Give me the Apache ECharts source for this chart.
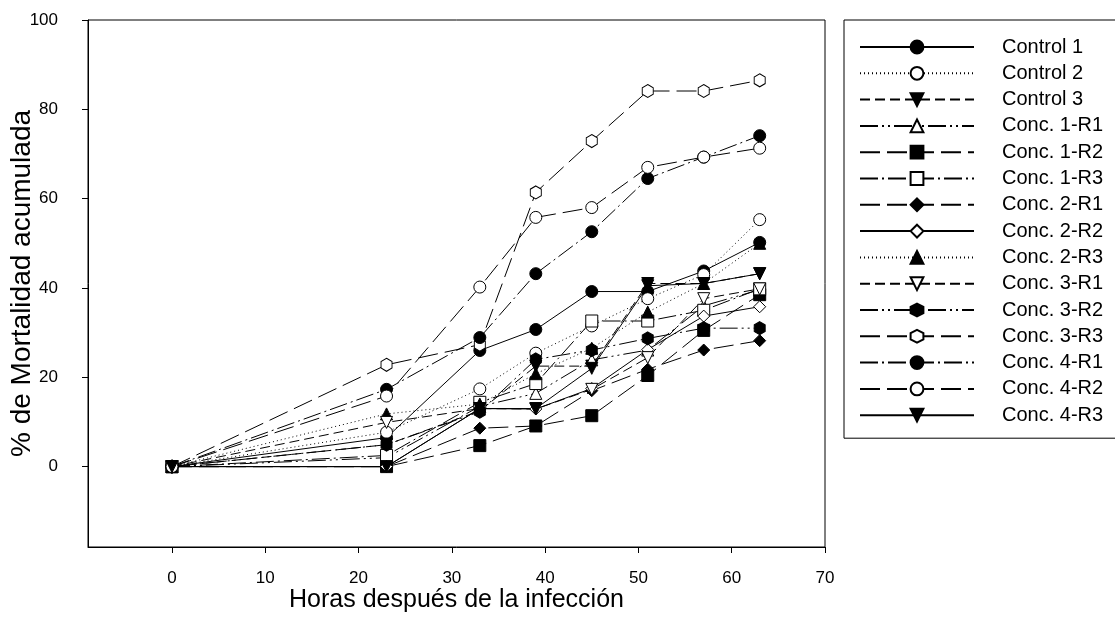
<!DOCTYPE html>
<html>
<head>
<meta charset="utf-8">
<script src="https://cdn.jsdelivr.net/npm/echarts@6/dist/echarts.min.js"></script>
<style>
  html, body { margin: 0; padding: 0; background: #fff; }
  #chart { width: 1115px; height: 635px; }
</style>
</head>
<body>
<div id="chart"></div>
<script>
// horas después de la infección
const horas = [0, 23, 33, 39, 45, 51, 57, 63];

// % de mortalidad acumulada
const control1 = [0, 6.5, 26.0, 30.7, 39.2, 39.2, 43.8, 50.2];
const control2 = [0, 7.7, 17.4, 25.4, 31.5, 37.6, 43.0, 55.3];
const control3 = [0, 4.9, 12.5, 22.5, 22.5, 41.0, 41.0, 43.2];
const conc1R1 = [0, 2.0, 13.5, 16.4, 23.9, 26.1, 36.0, 39.6];
const conc1R2 = [0, 0, 4.7, 9.1, 11.4, 20.4, 30.5, 38.5];
const conc1R3 = [0, 2.5, 14.4, 18.6, 32.6, 32.6, 35.0, 39.8];
const conc2R1 = [0, 0, 8.6, 9.1, 17.0, 21.8, 26.1, 28.2];
const conc2R2 = [0, 0, 13.0, 12.9, 17.5, 26.2, 33.7, 35.8];
const conc2R3 = [0, 11.8, 14.0, 20.8, 26.5, 34.6, 41.0, 50.0];
const conc3R1 = [0, 9.9, 13.0, 12.9, 17.3, 24.4, 37.6, 39.8];
const conc3R2 = [0, 4.9, 12.3, 24.0, 26.1, 28.7, 31.0, 31.0];
const conc3R3 = [0, 22.8, 27.3, 61.4, 72.9, 84.1, 84.1, 86.5];
const conc4R1 = [0, 17.3, 28.9, 43.2, 52.6, 64.5, 69.3, 74.1];
const conc4R2 = [0, 15.8, 40.2, 55.8, 58.0, 67.0, 69.3, 71.3];
const conc4R3 = [0, 0, 13.0, 13.0, 22.0, 40.5, 41.0, 43.2];

const xTicks = [0, 10, 20, 30, 40, 50, 60, 70];
const yTicks = [0, 20, 40, 60, 80, 100];

const font = '"Liberation Sans", Arial, sans-serif';
const hexagon = 'path://M0,-1L0.866,-0.5L0.866,0.5L0,1L-0.866,0.5L-0.866,-0.5Z';

// trazos
const solid = 'solid';
const dotted = [1, 3];
const dash = [10, 5];
const longDash = [20, 7];
const dashDot = [18, 4, 2, 4];
const dashDotDot = [18, 4, 2, 4, 2, 4];

function serie(name, values, symbol, filled, lineType, rotate) {
  const isHex = symbol === hexagon;
  return {
    name: name,
    type: 'line',
    data: horas.map((h, i) => [h, values[i]]),
    symbol: symbol,
    symbolSize: isHex ? [11, 13] : 12,
    symbolRotate: rotate || 0,
    showAllSymbol: true,
    lineStyle: { color: '#000', width: 1, type: lineType },
    itemStyle: {
      color: filled ? '#000' : '#fff',
      borderColor: '#000',
      borderWidth: 1
    },
    emphasis: { disabled: true },
    z: 2
  };
}

const chart = echarts.init(document.getElementById('chart'), null, { renderer: 'canvas' });

const option = {
  animation: false,
  backgroundColor: '#fff',
  textStyle: { fontFamily: font, color: '#000' },
  grid: {
    left: 88, top: 20, right: 290, bottom: 88,
    outerBoundsMode: 'none',
    containLabel: false,
    show: true, borderColor: '#000', borderWidth: 1
  },
  legend: {
    orient: 'vertical',
    left: 844,
    top: 20,
    padding: [17, 60, 13, 15],
    borderColor: '#000',
    borderWidth: 1,
    itemWidth: 114,
    itemHeight: 16,
    itemGap: 6.3,
    textStyle: { fontFamily: font, fontSize: 20, color: '#000', padding: [0, 0, 0, 23] },
    selectedMode: false
  },
  xAxis: {
    type: 'value',
    min: -9,
    max: 70,
    name: 'Horas después de la infección',
    nameLocation: 'middle',
    nameGap: 41,
    nameMoveOverlap: false,
    nameTextStyle: { fontFamily: font, fontSize: 25, color: '#000' },
    axisLine: { show: true, onZero: false, lineStyle: { color: '#000', width: 1 } },
    axisTick: { show: true, length: 6, customValues: xTicks, lineStyle: { color: '#000' } },
    axisLabel: { customValues: xTicks, margin: 23, fontSize: 17, color: '#000', fontFamily: font },
    splitLine: { show: false }
  },
  yAxis: {
    type: 'value',
    min: -18,
    max: 100,
    name: '% de Mortalidad acumulada',
    nameLocation: 'middle',
    nameGap: 52,
    nameMoveOverlap: false,
    nameTextStyle: { fontFamily: font, fontSize: 28, color: '#000' },
    axisLine: { show: true, onZero: false, lineStyle: { color: '#000', width: 1 } },
    axisTick: { show: true, length: 6, customValues: yTicks, lineStyle: { color: '#000' } },
    axisLabel: { customValues: yTicks, margin: 30, fontSize: 17, color: '#000', fontFamily: font },
    splitLine: { show: false }
  },
  series: [
    serie('Control 1', control1, 'circle', true, solid),
    serie('Control 2', control2, 'circle', false, dotted),
    serie('Control 3', control3, 'triangle', true, dash, 180),
    serie('Conc. 1-R1', conc1R1, 'triangle', false, dashDotDot),
    serie('Conc. 1-R2', conc1R2, 'rect', true, longDash),
    serie('Conc. 1-R3', conc1R3, 'rect', false, dashDot),
    serie('Conc. 2-R1', conc2R1, 'diamond', true, longDash),
    serie('Conc. 2-R2', conc2R2, 'diamond', false, solid),
    serie('Conc. 2-R3', conc2R3, 'triangle', true, dotted),
    serie('Conc. 3-R1', conc3R1, 'triangle', false, dash, 180),
    serie('Conc. 3-R2', conc3R2, hexagon, true, dashDotDot),
    serie('Conc. 3-R3', conc3R3, hexagon, false, longDash),
    serie('Conc. 4-R1', conc4R1, 'circle', true, dashDot),
    serie('Conc. 4-R2', conc4R2, 'circle', false, longDash),
    serie('Conc. 4-R3', conc4R3, 'triangle', true, solid, 180)
  ]
};

chart.setOption(option);
</script>
</body>
</html>
